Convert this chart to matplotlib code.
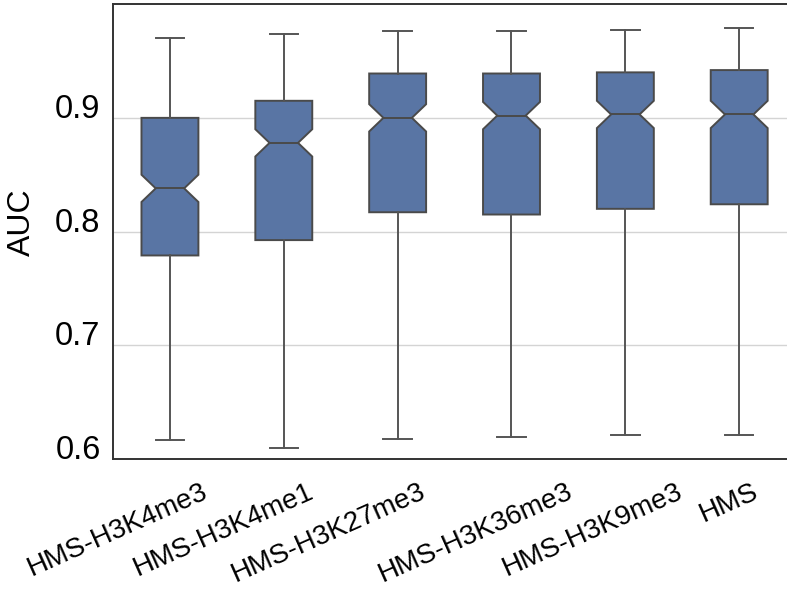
import matplotlib.pyplot as plt
import matplotlib.transforms as mtransforms

# Valeurs
labels = ["HMS-H3K4me3", "HMS-H3K4me1", "HMS-H3K27me3",
          "HMS-H3K36me3", "HMS-H3K9me3", "HMS"]
medians = [0.838, 0.878, 0.900, 0.902, 0.903, 0.903]
q1 = [0.779, 0.7925, 0.817, 0.815, 0.820, 0.824]
q3 = [0.900, 0.915, 0.939, 0.939, 0.940, 0.942]
whis_lo = [0.617, 0.610, 0.618, 0.619, 0.621, 0.621]
whis_hi = [0.970, 0.974, 0.976, 0.976, 0.977, 0.979]
notch = [0.012, 0.012, 0.012, 0.012, 0.012, 0.012]

# décalage horizontal des étiquettes (pixels)
label_dx = [31, 23, 21, 55, 51, 13]

stats = []
for i in range(len(labels)):
    stats.append(dict(label=labels[i], med=medians[i], q1=q1[i], q3=q3[i],
                      whislo=whis_lo[i], whishi=whis_hi[i],
                      cilo=medians[i] - notch[i], cihi=medians[i] + notch[i],
                      fliers=[]))

plt.rcParams['font.family'] = ['Liberation Sans', 'DejaVu Sans']

fig = plt.figure(figsize=(7.87, 5.9), dpi=100)
ax = fig.add_axes([0.1436, 0.222, 0.868, 0.771])

edge = "#4a4a4a"
ax.bxp(stats, positions=range(len(labels)), widths=0.5, shownotches=True,
       patch_artist=True, showfliers=False,
       boxprops=dict(facecolor="#5975a4", edgecolor=edge, linewidth=1.4),
       medianprops=dict(color=edge, linewidth=1.4),
       whiskerprops=dict(color="#555555", linewidth=1.4),
       capprops=dict(color="#555555", linewidth=1.4))

ax.set_xlim(-0.5, 5.5)
ax.set_ylim(0.6, 1.0)
ax.set_yticks([0.6, 0.7, 0.8, 0.9])
ax.set_yticklabels(["0.6", "0.7", "0.8", "0.9"])
ax.yaxis.grid(True, color="#d4d4d4", linewidth=1)
ax.set_axisbelow(True)

for s in ax.spines.values():
    s.set_color("#333333")
    s.set_linewidth(1.4)
ax.spines["right"].set_visible(False)

ax.tick_params(axis="y", length=0, pad=9, labelsize=23.5)
ax.tick_params(axis="x", length=0, pad=14, labelsize=20)
for lab in ax.get_yticklabels():
    lab.set_verticalalignment("baseline")

ax.set_xticks(range(len(labels)))
ax.set_xticklabels(labels, rotation=24, ha="right", rotation_mode="anchor", va="top")
for lab, dx in zip(ax.get_xticklabels(), label_dx):
    shift = mtransforms.ScaledTranslation(dx / 100, 0, fig.dpi_scale_trans)
    lab.set_transform(lab.get_transform() + shift)

ax.set_ylabel("AUC", fontsize=23)
ax.yaxis.set_label_coords(-0.112, 0.52)

fig.savefig("out.png", dpi=100)
